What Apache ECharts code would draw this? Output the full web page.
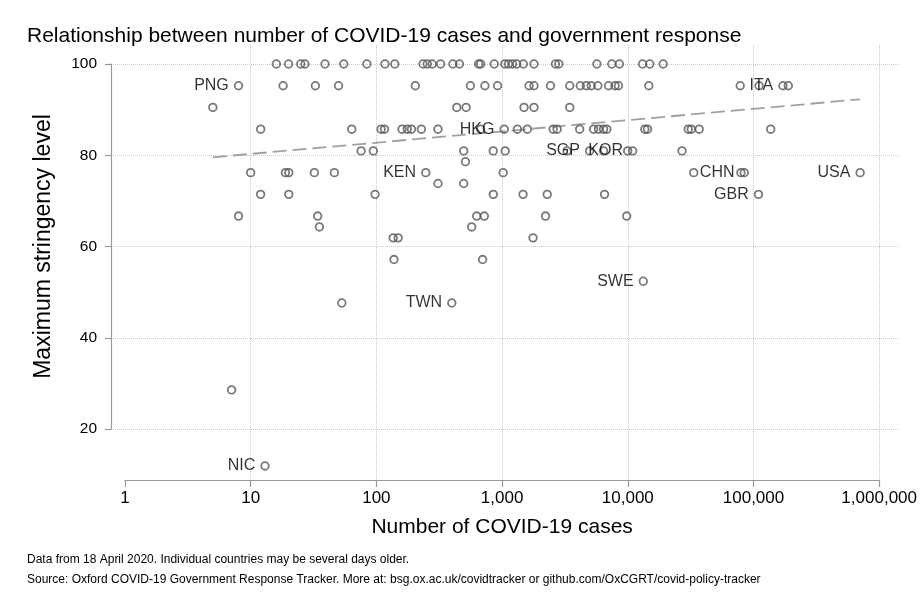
<!DOCTYPE html>
<html>
<head>
<meta charset="utf-8">
<script src="https://cdn.jsdelivr.net/npm/echarts@6/dist/echarts.min.js"></script>
<style>
html,body{margin:0;padding:0;background:#fff;}
#chart{width:920px;height:613px;}
</style>
</head>
<body>
<div id="chart"></div>
<script>
// ---- Data ----
// Unlabelled countries: number of cases and maximum stringency level
const caseCounts = [
  // stringency 100
  16,20,25,27,39,55,84,117,140,235,254,278,324,406,458,651,675,866,1050,1124,1209,1307,1476,1794,2658,2828,5676,7457,8580,13110,14970,19110,
  // 95.24
  18.1,32.7,50,204,560,730,920,1638,1794,2427,3453,4190,4672,5117,5781,7023,7918,8424,14700,78430,110800,189200,
  // 90.48
  5,436,517,1495,1794,3453,
  // 85.71
  12,63.7,109,116,160,176,190,228,309,675,1324,1588,2549,2741,4143,5346,5854,6412,6810,13670,14360,30280,31980,36990,137100,
  // 80.95
  75.6,94.6,495,851,1058,3289,6412,9980,27010,
  // 78.57
  511,
  // 76.19
  10,18.9,20.1,32.1,46.3,1020,33460,79430,
  // 73.81
  309,495,
  // 71.43
  12,20.1,97.6,851,1468,2285,6530,
  // 66.67
  8,34.1,628,722,2216,9797,
  // 64.29
  35.2,573,
  // 61.90
  136,149,1762,
  // 57.14
  138,700,
  // 47.62
  53.1,
  // 28.57
  7.05
];
const stringency = [
  100,100,100,100,100,100,100,100,100,100,100,100,100,100,100,100,100,100,100,100,100,100,100,100,100,100,100,100,100,100,100,100,
  95.24,95.24,95.24,95.24,95.24,95.24,95.24,95.24,95.24,95.24,95.24,95.24,95.24,95.24,95.24,95.24,95.24,95.24,95.24,95.24,95.24,95.24,
  90.48,90.48,90.48,90.48,90.48,90.48,
  85.71,85.71,85.71,85.71,85.71,85.71,85.71,85.71,85.71,85.71,85.71,85.71,85.71,85.71,85.71,85.71,85.71,85.71,85.71,85.71,85.71,85.71,85.71,85.71,85.71,
  80.95,80.95,80.95,80.95,80.95,80.95,80.95,80.95,80.95,
  78.57,
  76.19,76.19,76.19,76.19,76.19,76.19,76.19,76.19,
  73.81,73.81,
  71.43,71.43,71.43,71.43,71.43,71.43,71.43,
  66.67,66.67,66.67,66.67,66.67,66.67,
  64.29,64.29,
  61.90,61.90,61.90,
  57.14,57.14,
  47.62,
  28.57
];
// Labelled countries
const labelCodes      = ['PNG','ITA','HKG','SGP','KOR','KEN','CHN','USA','GBR','SWE','TWN','NIC'];
const labelCases      = [8, 171500, 1039, 4970, 10930, 247, 84360, 705300, 109600, 13280, 398, 13];
const labelStringency = [95.24, 95.24, 85.71, 80.95, 80.95, 76.19, 76.19, 76.19, 71.43, 52.38, 47.62, 11.90];
// Fitted trend line end points
const trendCases      = [5, 705300];
const trendStringency = [79.55, 92.26];
// Axis ticks
const yTicks = [20, 40, 60, 80, 100];
const xTickLabels = ['1','10','100','1,000','10,000','100,000','1,000,000'];

// ---- Chart ----
const FONT = '"Liberation Sans", Arial, Helvetica, sans-serif';
const chart = echarts.init(document.getElementById('chart'), null, {renderer: 'canvas'});

const points = caseCounts.map((c, i) => [c, stringency[i]]);
const labelled = labelCodes.map((n, i) => ({name: n, value: [labelCases[i], labelStringency[i]]}));
const trend = trendCases.map((c, i) => [c, trendStringency[i]]);

const gridLine = {color: '#c8c8c8', type: 'dotted', width: 1};
const axisColor = '#9a9a9a';
const markerStyle = {color: 'rgba(0,0,0,0)', borderColor: '#585858', borderWidth: 1.8};
const SYM = 7.6;

const option = {
  animation: false,
  backgroundColor: '#fff',
  title: [
    {text: 'Relationship between number of COVID-19 cases and government response',
     left: 27, top: 26, padding: 0,
     textStyle: {fontFamily: FONT, fontSize: 21, fontWeight: 'normal', color: '#000'}},
    {text: 'Data from 18 April 2020. Individual countries may be several days older.',
     left: 27, top: 554, padding: 0,
     textStyle: {fontFamily: FONT, fontSize: 12, fontWeight: 'normal', color: '#000'}},
    {text: 'Source: Oxford COVID-19 Government Response Tracker. More at: bsg.ox.ac.uk/covidtracker or github.com/OxCGRT/covid-policy-tracker',
     left: 27, top: 574, padding: 0,
     textStyle: {fontFamily: FONT, fontSize: 12, fontWeight: 'normal', color: '#000'}}
  ],
  grid: [
    {left: 125, right: 35.8, top: 45, bottom: 133, containLabel: false},
    {left: 111, right: 22, top: 64, bottom: 184, containLabel: false}
  ],
  xAxis: [
    {
      gridIndex: 0, type: 'log', logBase: 10, min: 1, max: 1000000,
      name: 'Number of COVID-19 cases', nameLocation: 'middle', nameGap: 37,
      nameTextStyle: {fontFamily: FONT, fontSize: 21, color: '#000'},
      axisLine: {show: true, lineStyle: {color: axisColor, width: 1.2}},
      axisTick: {show: true, length: 7, lineStyle: {color: axisColor, width: 1.2}},
      axisLabel: {
        fontFamily: FONT, fontSize: 17, color: '#000', margin: 10,
        formatter: v => xTickLabels[Math.round(Math.log10(v))]
      },
      splitLine: {show: true, showMinLine: false, lineStyle: gridLine},
      minorTick: {show: false}
    },
    {gridIndex: 1, type: 'value', min: 0, max: 1, show: false}
  ],
  yAxis: [
    {gridIndex: 0, type: 'value', min: 8.822, max: 104.164, show: false},
    {
      gridIndex: 1, type: 'value', min: yTicks[0], max: yTicks[yTicks.length - 1], interval: 20,
      name: 'Maximum stringency level', nameLocation: 'middle', nameGap: 56,
      nameTextStyle: {fontFamily: FONT, fontSize: 23, color: '#000'},
      axisLine: {show: true, lineStyle: {color: axisColor, width: 1.2}},
      axisTick: {show: true, length: 6, lineStyle: {color: axisColor, width: 1.2}},
      axisLabel: {fontFamily: FONT, fontSize: 15.5, color: '#000', margin: 14},
      splitLine: {show: true, lineStyle: gridLine}
    }
  ],
  series: [
    {
      type: 'line', xAxisIndex: 0, yAxisIndex: 0, data: trend, symbol: 'none', z: 1,
      lineStyle: {color: '#a0a0a0', width: 1.8, type: [14, 6]}, silent: true
    },
    {
      type: 'scatter', xAxisIndex: 0, yAxisIndex: 0, data: points, symbol: 'circle', symbolSize: SYM,
      itemStyle: markerStyle, z: 3, clip: false, silent: true
    },
    {
      type: 'scatter', xAxisIndex: 0, yAxisIndex: 0, data: labelled, symbol: 'circle', symbolSize: SYM,
      itemStyle: markerStyle, z: 4, clip: false, silent: true,
      label: {show: true, position: 'left', distance: 5, formatter: p => p.name,
              fontFamily: FONT, fontSize: 16, color: '#000'}
    }
  ]
};
chart.setOption(option);
</script>
</body>
</html>
